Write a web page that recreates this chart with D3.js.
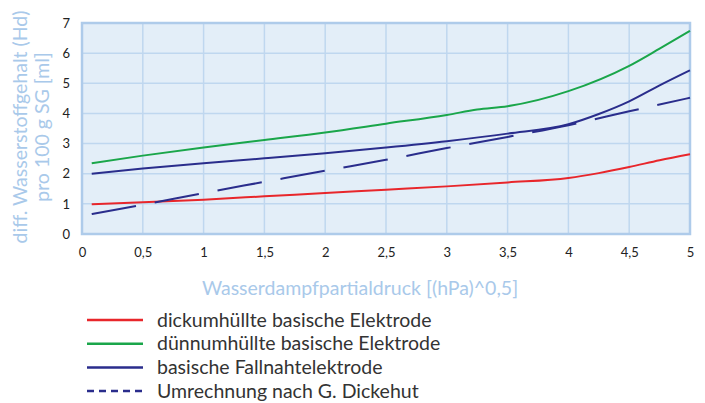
<!DOCTYPE html>
<html><head><meta charset="utf-8">
<script src="https://cdn.jsdelivr.net/npm/d3@7"></script>
<style>body{margin:0;background:#fff}svg{display:block}text{font-family:Lato,"Open Sans",sans-serif}</style>
</head><body>
<svg id="c" width="705" height="403"></svg>
<script>
const xTicks = [0,0.5,1,1.5,2,2.5,3,3.5,4,4.5,5];
const xTickLabels = ["0","0,5","1","1,5","2","2,5","3","3,5","4","4,5","5"];
const yTicks = [0,1,2,3,4,5,6,7];
const seriesNames = ["dickumhüllte basische Elektrode","dünnumhüllte basische Elektrode","basische Fallnahtelektrode","Umrechnung nach G. Dickehut"];
const xRed = [0.08,0.5,1,1.5,2,2.5,3,3.5,4,4.25,4.5,4.75,5];
const yRed = [0.99,1.05,1.14,1.25,1.36,1.47,1.58,1.71,1.86,2.02,2.22,2.45,2.65];
const xGreen = [0.08,0.5,1,1.5,2,2.5,3,3.25,3.5,4,4.5,4.75,5];
const yGreen = [2.35,2.6,2.87,3.12,3.37,3.66,3.95,4.13,4.24,4.74,5.58,6.15,6.74];
const xBlue = [0.08,0.5,1,1.5,2,2.5,3,3.5,4,4.25,4.5,4.75,5];
const yBlue = [2.0,2.17,2.35,2.51,2.68,2.87,3.08,3.33,3.64,3.98,4.4,4.93,5.43];
const xDash = [0.08,0.5,1,1.5,2,2.5,3,3.5,4,4.5,5];
const yDash = [0.66,0.97,1.36,1.73,2.10,2.46,2.85,3.22,3.61,4.07,4.52];

const svg = d3.select("#c");
const L=82,R=690,T=23,B=234;
const x = d3.scaleLinear().domain([0,5]).range([L,R]);
const y = d3.scaleLinear().domain([0,7]).range([B,T]);

svg.append("rect").attr("x",L).attr("y",T).attr("width",R-L).attr("height",B-T).attr("fill","#e3eef8");
const g = svg.append("g");
g.selectAll(".vx").data(xTicks).join("line").attr("x1",d=>x(d)).attr("x2",d=>x(d)).attr("y1",T).attr("y2",B).attr("stroke","#bfd7ef").attr("stroke-width",1.5);
g.selectAll(".hy").data(yTicks).join("line").attr("y1",d=>y(d)).attr("y2",d=>y(d)).attr("x1",L).attr("x2",R).attr("stroke","#bfd7ef").attr("stroke-width",1.5);
svg.append("rect").attr("x",L).attr("y",T).attr("width",R-L).attr("height",B-T).attr("fill","none").attr("stroke","#aecbea").attr("stroke-width",2.5);

const xAxis = d3.axisBottom(x).tickValues(xTicks).tickFormat((d,i)=>xTickLabels[i]).tickSize(0).tickPadding(14);
const xa = svg.append("g").attr("transform",`translate(0,${B})`).call(xAxis);
xa.select(".domain").remove();
xa.selectAll("text").attr("font-size",13).attr("fill","#222").style("font-family","Lato");
const yAxis = d3.axisLeft(y).tickValues(yTicks).tickFormat(d3.format("d")).tickSize(0).tickPadding(12);
const ya = svg.append("g").attr("transform",`translate(${L},0)`).call(yAxis);
ya.select(".domain").remove();
ya.selectAll("text").attr("font-size",13).attr("fill","#222").style("font-family","Lato");

const line = d3.line().x(d=>x(d[0])).y(d=>y(d[1])).curve(d3.curveMonotoneX);
const series = [
  {xs:xRed, ys:yRed, color:"#e8262b", dash:null},
  {xs:xGreen, ys:yGreen, color:"#1aa64a", dash:null},
  {xs:xBlue, ys:yBlue, color:"#2a2d8c", dash:null},
  {xs:xDash, ys:yDash, color:"#2a2d8c", dash:"45,19"}
];
series.forEach(s=>{
  svg.append("path").datum(s.xs.map((v,i)=>[v,s.ys[i]])).attr("d",line)
    .attr("fill","none").attr("stroke",s.color).attr("stroke-width",2)
    .attr("stroke-dasharray",s.dash);
});

svg.append("text").attr("x",360).attr("y",295).attr("text-anchor","middle").attr("font-size",19.5).attr("fill","#a9c9ea").text("Wasserdampfpartialdruck [(hPa)^0,5]");
const yt = svg.append("text").attr("transform","translate(27,127) rotate(-90)").attr("text-anchor","middle").attr("font-size",19.5).attr("fill","#a9c9ea");
yt.append("tspan").attr("x",0).attr("y",0).text("diff. Wasserstoffgehalt (Hd)");
yt.append("tspan").attr("x",0).attr("y",22).text("pro 100 g SG [ml]");

const lg = svg.append("g");
const legDash = [null,null,null,"7,5"];
seriesNames.forEach((n,i)=>{
  const yy = 320 + i*23.7;
  lg.append("line").attr("x1",87).attr("x2",143).attr("y1",yy).attr("y2",yy).attr("stroke",series[i].color).attr("stroke-width",2.5).attr("stroke-dasharray",legDash[i]);
  lg.append("text").attr("x",157).attr("y",yy+6.5).attr("font-size",19.5).attr("fill","#333").text(n);
});
</script>
</body></html>
